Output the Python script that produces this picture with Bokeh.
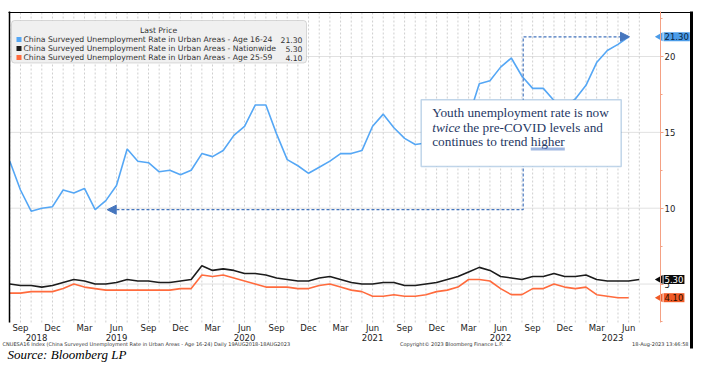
from bokeh.plotting import figure
from bokeh.models import (Range1d, LinearAxis, FixedTicker, BoxAnnotation, Label,
                          Arrow, NormalHead)
from bokeh.embed import file_html
from bokeh.resources import INLINE

# ---------------- data ----------------
month_abbr = ["Jan", "Feb", "Mar", "Apr", "May", "Jun", "Jul", "Aug", "Sep", "Oct", "Nov", "Dec"]
# monthly observations, Aug 2018 .. Jul 2023
months = [(2018 + (7 + i) // 12, (7 + i) % 12 + 1) for i in range(60)]

youth_16_24 = [13.1, 11.2, 9.8, 10.0, 10.1, 11.2, 11.0, 11.3, 9.9, 10.5, 11.5, 13.9,
               13.1, 13.0, 12.4, 12.5, 12.2, 12.5, 13.6, 13.4, 13.8, 14.8, 15.4, 16.8,
               16.8, 14.9, 13.2, 12.8, 12.3, 12.7, 13.1, 13.6, 13.6, 13.8, 15.4, 16.2,
               15.3, 14.6, 14.2, 14.3, 14.3, 15.3, 15.3, 16.0, 18.2, 18.4, 19.3, 19.9,
               18.7, 17.9, 17.9, 17.1, 16.7, 17.2, 18.1, 19.6, 20.4, 20.8, 21.3]
nationwide = [5.0, 4.9, 4.9, 4.8, 4.9, 5.1, 5.3, 5.2, 5.0, 5.0, 5.1, 5.3,
              5.2, 5.2, 5.1, 5.1, 5.2, 5.3, 6.2, 5.9, 6.0, 5.9, 5.7, 5.7,
              5.6, 5.4, 5.3, 5.2, 5.2, 5.4, 5.5, 5.3, 5.1, 5.0, 5.0, 5.1,
              5.1, 4.9, 4.9, 5.0, 5.1, 5.3, 5.5, 5.8, 6.1, 5.9, 5.5, 5.4,
              5.3, 5.5, 5.5, 5.7, 5.5, 5.5, 5.6, 5.3, 5.2, 5.2, 5.2, 5.3]
age_25_59 = [4.4, 4.4, 4.5, 4.5, 4.5, 4.7, 5.0, 4.8, 4.7, 4.6, 4.6, 4.6,
             4.6, 4.6, 4.6, 4.6, 4.7, 4.7, 5.6, 5.5, 5.6, 5.4, 5.2, 5.0,
             4.8, 4.8, 4.8, 4.7, 4.7, 4.9, 5.0, 4.8, 4.6, 4.5, 4.2, 4.2,
             4.3, 4.2, 4.2, 4.3, 4.5, 4.6, 4.8, 5.3, 5.3, 5.2, 4.7, 4.3,
             4.3, 4.7, 4.7, 5.0, 4.8, 4.7, 4.8, 4.3, 4.2, 4.1, 4.1]

series_names = ["China Surveyed Unemployment Rate in Urban Areas - Age 16-24",
                "China Surveyed Unemployment Rate in Urban Areas - Nationwide",
                "China Surveyed Unemployment Rate in Urban Areas - Age 25-59"]
series_colors = ["#55a7f5", "#1c1c1c", "#ff6b3d"]
tag_bg = ["#4b9ce8", "#0a0a0a", "#f05a26"]
tag_fg = ["#0b2440", "#ffffff", "#2a0e00"]
y_ticks = [5, 10, 15, 20]
y_minor = [2.5, 7.5, 12.5, 17.5, 22.5]
tick_months = [3, 6, 9, 12]

series = [youth_16_24, nationwide, age_25_59]
x_idx = list(range(len(months)))

# ---------------- geometry (page pixels) ----------------
W, H = 693, 362
X0_PX, PX_MONTH = 9.3, 10.67       # first month position, pixels per month
Y20_PX, PX_UNIT = 56.0, 15.17      # position of the 20 tick, pixels per percentage point


def xd(px):
    return (px - X0_PX) / PX_MONTH


def yd(py):
    return y_ticks[-1] - (py - Y20_PX) / PX_UNIT


p = figure(width=W, height=H, output_backend="svg", toolbar_location=None,
           x_range=Range1d(xd(0), xd(W)), y_range=Range1d(yd(H), yd(0)),
           x_axis_location=None, y_axis_location=None,
           min_border_left=0, min_border_right=0, min_border_top=0, min_border_bottom=0)
p.outline_line_color = None
p.background_fill_color = "white"
p.border_fill_color = "white"
p.grid.visible = False

x_left, x_axis = xd(9), xd(660)
y_top, y_bot = yd(12), yd(322)

# grid lines (monthly verticals, dotted horizontals) limited to the plot area
p.segment(x0=x_idx, x1=x_idx, y0=y_bot, y1=y_top, line_color="#cfcfcf", line_dash="2 2", line_width=1)
p.segment(x0=x_left, x1=x_axis, y0=y_ticks, y1=y_ticks, line_color="#c2c2c2", line_dash="1 1", line_width=1)

# right black bar of the terminal frame
p.quad(left=xd(689.5), right=xd(W), top=yd(11), bottom=yd(348), fill_color="black", line_color=None)


def bare_axis(**kw):
    a = LinearAxis(**kw)
    a.major_tick_out = 0
    a.major_tick_in = 0
    a.minor_tick_out = 0
    a.minor_tick_in = 0
    a.major_tick_line_color = None
    a.minor_tick_line_color = None
    return a


# left black border
la = bare_axis(ticker=FixedTicker(ticks=[]), fixed_location=x_left, bounds=(y_bot, yd(11)))
la.axis_line_color = "black"
la.axis_line_width = 1.5
p.add_layout(la, "left")

# top black border
ta = bare_axis(ticker=FixedTicker(ticks=[]), fixed_location=yd(11.5), bounds=(xd(8), xd(W)))
ta.axis_line_color = "black"
ta.axis_line_width = 1
p.add_layout(ta, "above")

# value axis on the right
ax = LinearAxis(ticker=FixedTicker(ticks=y_ticks, minor_ticks=y_minor), fixed_location=x_axis,
                bounds=(y_bot, yd(11)))
ax.axis_line_color = "#f4a184"
ax.major_tick_line_color = "#f4a184"
ax.minor_tick_line_color = "#f4a184"
ax.major_tick_out = 3
ax.major_tick_in = 0
ax.minor_tick_out = 2
ax.minor_tick_in = 0
ax.major_label_standoff = 1
ax.major_label_text_font = "DejaVu Sans"
ax.major_label_text_font_size = "8.5px"
ax.major_label_text_color = "#222222"
p.add_layout(ax, "right")

# month axis
mt = [i for i, (y, m) in enumerate(months) if m in tick_months]
xa = bare_axis(ticker=FixedTicker(ticks=mt), fixed_location=y_bot,
               major_label_overrides={i: month_abbr[months[i][1] - 1] for i in mt})
xa.axis_line_color = None
xa.major_label_standoff = 0
xa.major_label_text_font = "DejaVu Sans"
xa.major_label_text_font_size = "8.5px"
xa.major_label_text_color = "#222222"
p.add_layout(xa, "below")

# year axis
years = sorted(set(y for y, m in months))
year_pos = []
for yr in years:
    idx = [i for i, (y, m) in enumerate(months) if y == yr]
    jun = [i for i in idx if months[i][1] == 6]
    year_pos.append(float(jun[0]) if jun and len(idx) == 12 else (idx[0] + idx[-1] + 1) / 2)
ya = bare_axis(ticker=FixedTicker(ticks=year_pos), fixed_location=y_bot,
               major_label_overrides={pos: str(yr) for pos, yr in zip(year_pos, years)})
ya.axis_line_color = None
ya.major_label_standoff = 11
ya.major_label_text_font = "DejaVu Sans"
ya.major_label_text_font_size = "8.5px"
ya.major_label_text_color = "#222222"
p.add_layout(ya, "below")

# lines
for vals, col in zip(series, series_colors):
    p.line(x_idx[:len(vals)], vals, line_color=col, line_width=1.6)

# dashed arrow path
arrow_col = "#4676be"
pre_covid = youth_16_24[8]
latest = youth_16_24[-1]
xl, xc, xr = xd(106.7), xd(522.7), xd(629)
p.line([xl + 0.4, xc, xc, xr - 0.4], [pre_covid, pre_covid, latest, latest],
       line_color=arrow_col, line_width=1.2, line_dash="3 2")
p.add_layout(Arrow(end=NormalHead(size=9, fill_color=arrow_col, line_color=arrow_col),
                   x_start=xl + 0.8, y_start=pre_covid, x_end=xl, y_end=pre_covid, line_alpha=0))
p.add_layout(Arrow(end=NormalHead(size=9, fill_color=arrow_col, line_color=arrow_col),
                   x_start=xr - 0.8, y_start=latest, x_end=xr, y_end=latest, line_alpha=0))

box_props = BoxAnnotation.properties()
lab_props = Label.properties()


def cbox(l, r, t, b, fill, line=None, lw=1, radius=0):
    kw = dict(left=l, right=r, top=t, bottom=b, left_units="canvas", right_units="canvas",
              top_units="canvas", bottom_units="canvas", fill_color=fill, fill_alpha=1,
              line_color=line, line_width=lw, level="overlay")
    if radius and "border_radius" in box_props:
        kw["border_radius"] = radius
    b_ = BoxAnnotation(**kw)
    p.add_layout(b_)
    return b_


def clabel(x, y, text, size, font="DejaVu Sans", color="#222222", align="left",
           style="normal", data_pos=False, bg=None, pad=0):
    units = "data" if data_pos else "canvas"
    kw = dict(x=x, y=y, x_units=units, y_units=units, text=text, text_font=font,
              text_font_size=size, text_color=color, text_align=align,
              text_baseline="middle", text_font_style=style, level="overlay")
    if bg is not None:
        kw["background_fill_color"] = bg
        kw["background_fill_alpha"] = 1
        if "padding" in lab_props:
            kw["padding"] = pad
    lb = Label(**kw)
    p.add_layout(lb)
    return lb


# legend
cbox(11, 306, 20, 62.5, "#f0f0f0", line="#8c8c8c", lw=1, radius=3)
clabel(158, 30, "Last Price", "7.7px", align="center", color="#333333")
for i, (nm, col, vals) in enumerate(zip(series_names, series_colors, series)):
    yy = 39 + 9 * i
    cbox(16, 21, yy - 2.5, yy + 2.5, col)
    clabel(23, yy, nm, "7.7px", color="#333333")
    clabel(302, yy, f"{vals[-1]:.2f}", "7.7px", align="right", color="#333333")

# value tags on the right (pointer + box)
last_vals = [v[-1] for v in series]
p.scatter([xd(659.5)] * 3, last_vals, marker="triangle", angle=1.5708, size=9,
          fill_color=tag_bg, line_color=None)
for v, bg, fg in zip(last_vals, tag_bg, tag_fg):
    clabel(xd(663), v, f"{v:.2f}", "8.5px", color=fg, data_pos=True, bg=bg, pad=1)

# annotation box
cbox(420.7, 620.7, 99.3, 166, "white", line="#2e75b6", lw=1.5)
tcol = "#1f3864"
fnt = "Liberation Serif"
clabel(431.7, 112, "Youth unemployment rate is now", "13.3px", font=fnt, color=tcol)
clabel(431.7, 126.5, "twice", "13.3px", font=fnt, color=tcol, style="italic")
clabel(462.5, 126.5, "the pre-COVID levels  and", "13.3px", font=fnt, color=tcol)
clabel(431.7, 141, "continues to trend higher", "13.3px", font=fnt, color=tcol)
cbox(530.3, 564.3, 147.2, 148.0, "#4472c4")
cbox(530.3, 564.3, 149.0, 149.8, "#4472c4")

# footer texts
clabel(2, 343, "CNUESA16 Index (China Surveyed Unemployment Rate in Urban Areas - Age 16-24)  Daily 19AUG2018-18AUG2023",
       "5px", color="#333333")
clabel(451, 343, "Copyright\u00a9 2023 Bloomberg Finance L.P.", "5px", align="center", color="#333333")
clabel(688, 343, "18-Aug-2023 13:46:58", "5px", align="right", color="#333333")
clabel(7, 354, "Source: Bloomberg LP", "13px", font=fnt, color="#000000", style="italic")

open("out.html", "w").write(file_html(p, INLINE))
